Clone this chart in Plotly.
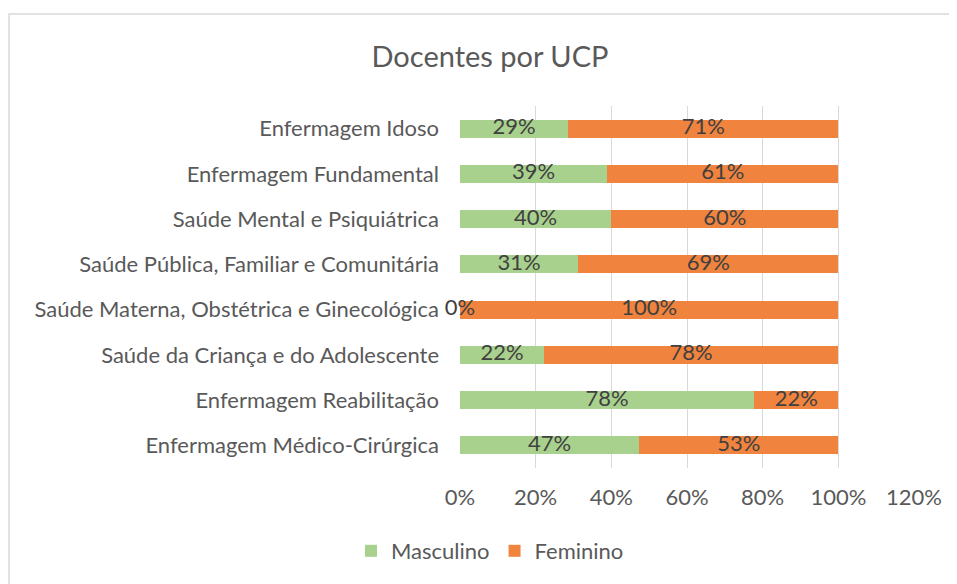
import plotly.graph_objects as go

categories = [
    "Enfermagem Idoso",
    "Enfermagem Fundamental",
    "Saúde Mental e Psiquiátrica",
    "Saúde Pública, Familiar e Comunitária",
    "Saúde Materna, Obstétrica e Ginecológica",
    "Saúde da Criança e do Adolescente",
    "Enfermagem Reabilitação",
    "Enfermagem Médico-Cirúrgica",
]
masculino = [0.286, 0.389, 0.400, 0.3125, 0.0, 0.222, 0.778, 0.474]
feminino = [0.714, 0.611, 0.600, 0.6875, 1.0, 0.778, 0.222, 0.526]
x_ticks = [0, 0.2, 0.4, 0.6, 0.8, 1.0, 1.2]
x_tick_labels = ["0%", "20%", "40%", "60%", "80%", "100%", "120%"]

GREEN = "#A9D18E"
ORANGE = "#F0843F"
FONT = "Lato"
TXT = "#595959"
LBL = "#404040"
FS = 22

fig = go.Figure()
fig.add_trace(go.Bar(y=categories, x=masculino, name="Masculino", orientation="h",
                     marker=dict(color=GREEN, line=dict(width=0))))
fig.add_trace(go.Bar(y=categories, x=feminino, name="Feminino", orientation="h",
                     marker=dict(color=ORANGE, line=dict(width=0))))

# data labels centred on each segment
fig.add_trace(go.Scatter(y=categories, x=[m / 2 for m in masculino], mode="text",
                         text=[f"{round(m*100):.0f}%" for m in masculino],
                         textfont=dict(family=FONT, size=FS, color=LBL),
                         showlegend=False, hoverinfo="skip", cliponaxis=False))
fig.add_trace(go.Scatter(y=categories, x=[m + f / 2 for m, f in zip(masculino, feminino)], mode="text",
                         text=[f"{round(f*100):.0f}%" for f in feminino],
                         textfont=dict(family=FONT, size=FS, color=LBL),
                         showlegend=False, hoverinfo="skip", cliponaxis=False))

# page body has an 8px margin; figure coordinates are offset by it
OFF = 8
W, H = 957 - OFF, 584 - OFF
L, T = 460 - OFF, 106 - OFF
R = W - (914 - OFF)
B = H - (468 - OFF)
pw = W - L - R
ph = H - T - B

fig.update_layout(
    width=W, height=H,
    barmode="stack",
    bargap=0.6,
    plot_bgcolor="white",
    paper_bgcolor="white",
    margin=dict(l=L, r=R, t=T, b=B),
    font=dict(family=FONT, size=FS, color=TXT),
    title=dict(text="Docentes por UCP", font=dict(family=FONT, size=29, color=TXT),
               xref="paper", x=(490 - OFF - L) / pw, xanchor="center",
               yref="container", y=1 - (57 - OFF) / H, yanchor="middle"),
    xaxis=dict(range=[0, 1.2], tickvals=x_ticks, ticktext=x_tick_labels,
               showgrid=True, gridcolor="#D9D9D9", gridwidth=1,
               zeroline=False, showline=False, ticks="",
               ticklabelstandoff=14,
               tickfont=dict(family=FONT, size=FS, color=TXT)),
    yaxis=dict(autorange="reversed", showgrid=False, zeroline=False, showline=False,
               ticks="", ticklabelstandoff=20,
               tickfont=dict(family=FONT, size=FS, color=TXT)),
    legend=dict(orientation="h", xref="paper", yref="paper",
                x=(490 - L - OFF) / pw, xanchor="center",
                y=(H - B - (551 - OFF)) / ph, yanchor="middle",
                font=dict(family=FONT, size=FS, color=TXT),
                traceorder="normal"),
    shapes=[dict(type="rect", xref="paper", yref="paper",
                 x0=(1 - L) / pw, x1=(W + 5 - L) / pw,
                 y0=(H - B - (H + 5)) / ph, y1=(H - B - 6) / ph,
                 line=dict(color="#D9D9D9", width=1.5), fillcolor="rgba(0,0,0,0)",
                 layer="below")],
)

fig.write_html("out.html")
